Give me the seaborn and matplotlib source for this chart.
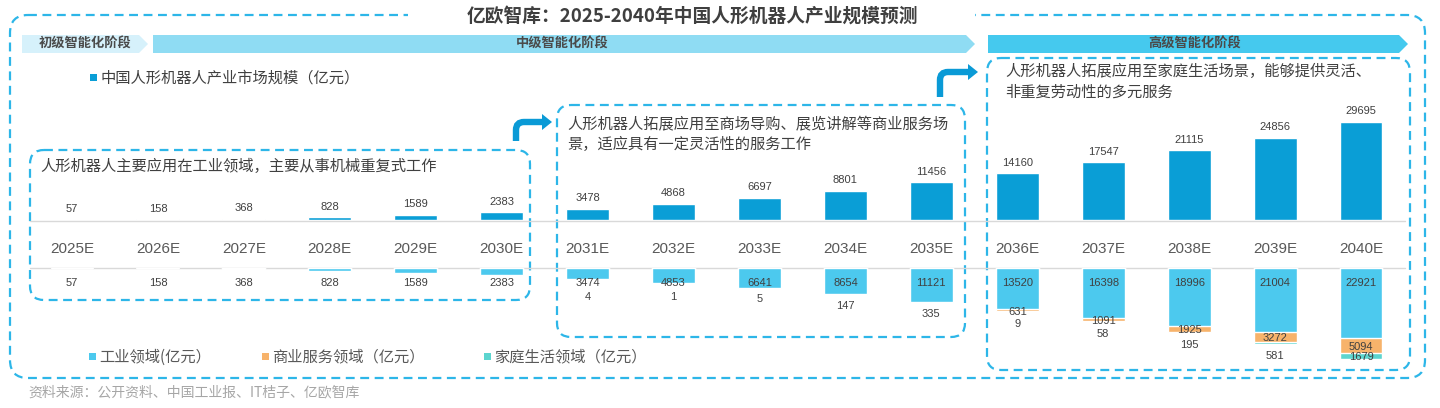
import matplotlib
matplotlib.use("Agg")
import matplotlib.pyplot as plt
import seaborn as sns
import pandas as pd
from matplotlib.patches import FancyBboxPatch, Polygon, PathPatch, Rectangle
from matplotlib.path import Path

years = [f"{y}E" for y in range(2025, 2041)]
market = [57, 158, 368, 828, 1589, 2383, 3478, 4868, 6697, 8801, 11456,
          14160, 17547, 21115, 24856, 29695]
industrial = [57, 158, 368, 828, 1589, 2383, 3474, 4853, 6641, 8654, 11121,
              13520, 16398, 18996, 21004, 22921]
commercial = [0, 0, 0, 0, 0, 0, 4, 1, 5, 147, 335, 631, 1091, 1925, 3272, 5094]
household = [0, 0, 0, 0, 0, 0, 0, 0, 0, 0, 0, 9, 58, 195, 581, 1679]

stages = ["初级智能化阶段", "中级智能化阶段", "高级智能化阶段"]
notes = [
    "人形机器人主要应用在工业领域，主要从事机械重复式工作",
    "人形机器人拓展应用至商场导购、展览讲解等商业服务场\n景，适应具有一定灵活性的服务工作",
    "人形机器人拓展应用至家庭生活场景，能够提供灵活、\n非重复劳动性的多元服务",
]
legend_top = "中国人形机器人产业市场规模（亿元）"
legend_bottom = ["工业领域(亿元）", "商业服务领域（亿元）", "家庭生活领域（亿元）"]
title = "亿欧智库：2025-2040年中国人形机器人产业规模预测"
source = "资料来源：公开资料、中国工业报、IT桔子、亿欧智库"

C_TOP = "#0a9ed6"
C_IND = "#4cc9ee"
C_COM = "#f7b36b"
C_HOME = "#5cd5cf"
C_DASH = "#2db6e8"
C_TXT = "#404040"

sns.set_theme(style="white")
plt.rcParams["font.family"] = ["Liberation Sans", "Noto Sans CJK SC", "DejaVu Sans"]

W, H = 1440, 408
fig = plt.figure(figsize=(W / 100, H / 100), dpi=100)

# background / decoration layer in pixel coordinates
bg = fig.add_axes([0, 0, 1, 1])
bg.set_xlim(0, W)
bg.set_ylim(H, 0)
bg.axis("off")


def dashed_box(x0, y0, x1, y1, r=14, lw=1.6):
    bg.add_patch(FancyBboxPatch((x0, y0), x1 - x0, y1 - y0,
                                boxstyle=f"round,pad=0,rounding_size={r}",
                                fill=False, ec=C_DASH, lw=lw,
                                ls=(0, (4, 2.5))))


# outer frame with gap for the title
dashed_box(10, 15, 1425, 378, r=18)
bg.add_patch(Rectangle((408, 8), 567, 14, fc="white", ec="none", zorder=3))
bg.text(692, 16, title, ha="center", va="center", fontsize=13.5,
        fontweight="bold", color="#3f3f3f", family=["Noto Sans CJK SC"], zorder=4)

# stage banners
banners = [(22, 148, "#d6f1fb", 85), (153, 975, "#8fdcf3", 562),
           (988, 1408, "#45c9ee", 1195)]
for (x0, x1, col, xt), name in zip(banners, stages):
    bg.add_patch(Polygon([(x0, 35), (x1 - 9, 35), (x1, 44), (x1 - 9, 53), (x0, 53)],
                         closed=True, fc=col, ec="none"))
    bg.text(xt, 44, name, ha="center", va="center", fontsize=9.5,
            fontweight="bold", color="#4a4a4a", family=["Noto Sans CJK SC"])

# stage boxes
dashed_box(30, 150, 530, 300)
dashed_box(557, 105, 965, 337)
dashed_box(987, 58, 1410, 370)
bg.text(40, 166, notes[0], fontsize=11, color=C_TXT, va="center",
        family=["Noto Sans CJK SC"])
bg.text(567, 134, notes[1], fontsize=11, color=C_TXT, va="center",
        linespacing=1.3, family=["Noto Sans CJK SC"])
bg.text(1005, 82, notes[2], fontsize=11, color=C_TXT, va="center",
        linespacing=1.3, family=["Noto Sans CJK SC"])


def bent_arrow(x, y0, y1, x_tip):
    r = 8
    verts = [(x, y0), (x, y1 + r), (x, y1), (x + r, y1), (x_tip - 9, y1)]
    codes = [Path.MOVETO, Path.LINETO, Path.CURVE3, Path.CURVE3, Path.LINETO]
    bg.add_patch(PathPatch(Path(verts, codes), fill=False, ec="#0a9ad6",
                           lw=4.6, capstyle="butt"))
    bg.add_patch(Polygon([(x_tip - 10, y1 - 8), (x_tip, y1), (x_tip - 10, y1 + 8)],
                         closed=True, fc="#0a9ad6", ec="none"))


bent_arrow(516, 141, 122, 552)
bent_arrow(940, 97, 72, 978)

# separator lines around the year labels
for yy in (221, 268):
    bg.plot([30, 1405], [yy, yy], color="#d9d9d9", lw=1)

# top legend
bg.add_patch(Rectangle((90, 74), 7, 7, fc=C_TOP, ec="none"))
bg.text(101, 78, legend_top, fontsize=11, color=C_TXT, va="center",
        family=["Noto Sans CJK SC"])

# bottom legend
for x0, col, lab in zip((89, 262, 484), (C_IND, C_COM, C_HOME), legend_bottom):
    bg.add_patch(Rectangle((x0, 353), 7, 7, fc=col, ec="none"))
    bg.text(x0 + 10, 357, lab, fontsize=11, color="#595959", va="center",
            family=["Noto Sans CJK SC"])

bg.text(28, 392, source, fontsize=10, color="#a6a6a6", va="center",
        family=["Noto Sans CJK SC"])

# category geometry: first centre at 72 px, step ~85.93 px
step = (1361 - 72) / 15
xmin = -72 / step
xmax = xmin + W / step

df = pd.DataFrame({"year": years, "market": market, "industrial": industrial,
                   "commercial": commercial, "household": household})
df["ind_com"] = df["industrial"] + df["commercial"]
df["total"] = df["ind_com"] + df["household"]

# top bars: market size
ax_top = fig.add_axes([0, (H - 220) / H, 1, 100 / H])
ax_top.patch.set_alpha(0)
sns.barplot(data=df, x="year", y="market", color=C_TOP, width=0.5,
            saturation=1, ax=ax_top)
ax_top.set_xlim(xmin, xmax)
ax_top.set_ylim(0, 30300)
ax_top.axis("off")
for i, v in enumerate(market):
    ax_top.annotate(str(v), (i, v), xytext=(0, 4), textcoords="offset points",
                    ha="center", va="bottom", fontsize=8, color=C_TXT)

# year labels
for i, y in enumerate(years):
    ax_top.annotate(y, (i, 0), xytext=(0, -21), textcoords="offset points",
                    ha="center", va="center", fontsize=11, color="#595959",
                    annotation_clip=False)

# bottom stacked bars (downwards)
ax_bot = fig.add_axes([0, (H - 368) / H, 1, 100 / H])
ax_bot.patch.set_alpha(0)
sns.barplot(data=df, x="year", y="total", color=C_HOME, width=0.5,
            saturation=1, ax=ax_bot)
sns.barplot(data=df, x="year", y="ind_com", color=C_COM, width=0.5,
            saturation=1, ax=ax_bot)
sns.barplot(data=df, x="year", y="industrial", color=C_IND, width=0.5,
            saturation=1, ax=ax_bot)
ax_bot.set_xlim(xmin, xmax)
ax_bot.set_ylim(32800, 0)
ax_bot.axis("off")

kw = dict(textcoords="offset points", ha="center", va="center", fontsize=8,
          color=C_TXT, annotation_clip=False)
# pixels per data unit on the lower axes, used to keep small labels apart
px_per_unit = 100 / 32800
for i in range(len(years)):
    ind, com, home = industrial[i], commercial[i], household[i]
    ax_bot.annotate(str(ind), (i, 0), xytext=(0, -11), **kw)
    if com:
        if i >= 11:
            ax_bot.annotate(str(com), (i, ind + com / 2), xytext=(0, -1), **kw)
        else:
            drop = max(11, 29 - (ind + com) * px_per_unit) * 0.72
            ax_bot.annotate(str(com), (i, ind + com), xytext=(0, -drop), **kw)
    if home:
        if i == len(years) - 1:
            ax_bot.annotate(str(home), (i, ind + com + home / 2), xytext=(0, -1), **kw)
        else:
            ax_bot.annotate(str(home), (i, ind + com + home), xytext=(0, -9), **kw)

fig.savefig("out.png", dpi=100)
